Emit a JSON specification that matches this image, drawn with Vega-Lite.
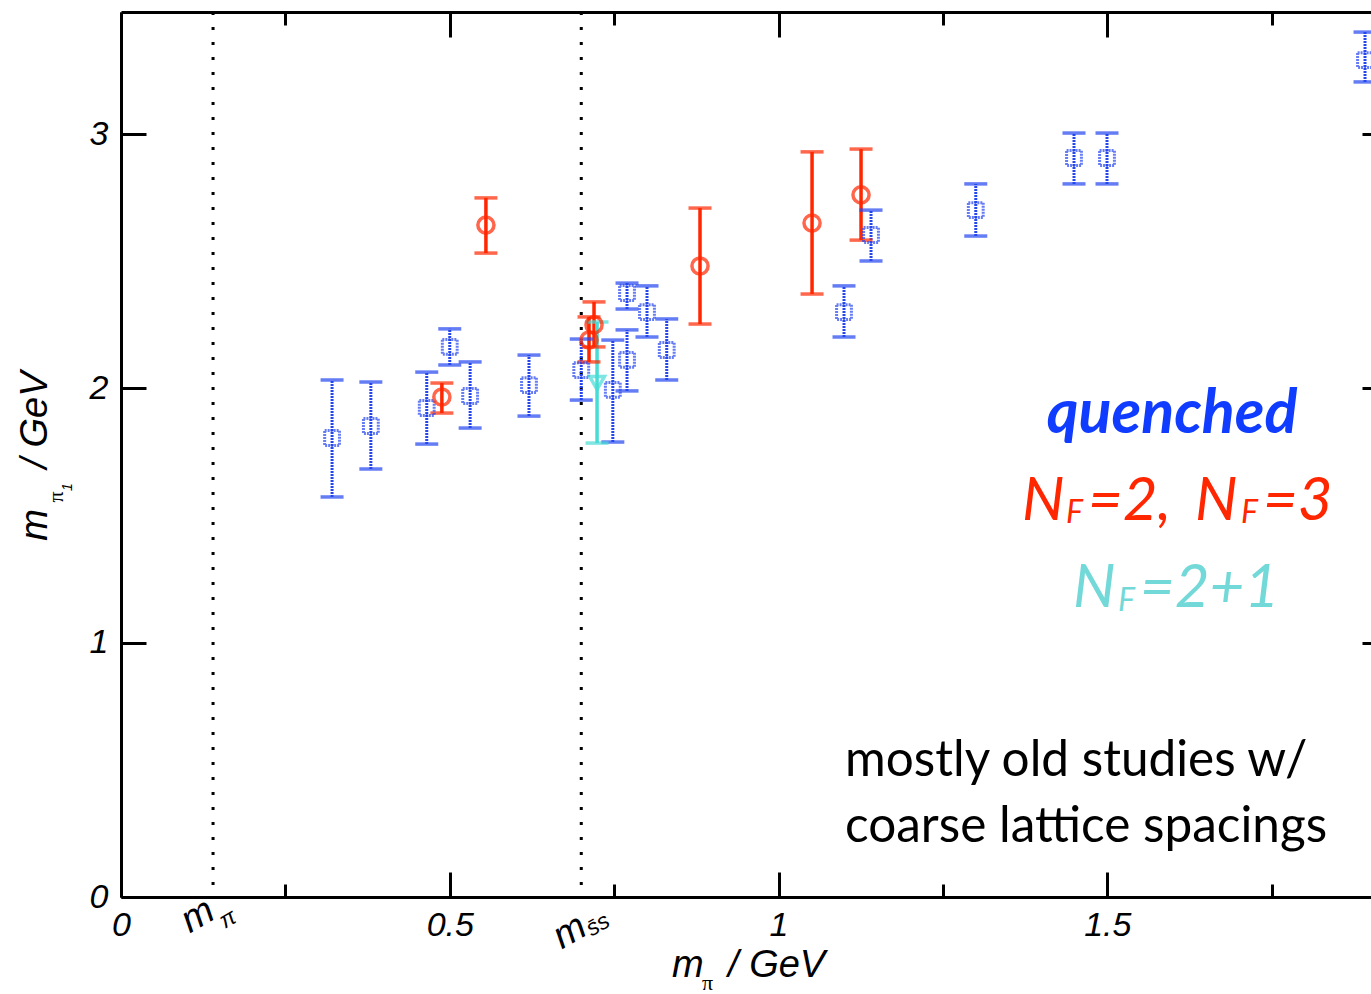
{
  "$schema": "https://vega.github.io/schema/vega-lite/v6.json",
  "width": 1250,
  "height": 885,
  "autosize": {"type": "none"},
  "padding": {"left": 121, "top": 12, "right": 0, "bottom": 97},
  "background": "white",
  "config": {"view": {"stroke": null}, "axis": {"grid": false}},
  "datasets": {
    "vlines": [{"pos": 0.14}, {"pos": 0.70}],
    "pts": [
      {"g": "quenched", "x": 0.321, "y": 1.805, "lo": 1.573, "hi": 2.033},
      {"g": "quenched", "x": 0.380, "y": 1.852, "lo": 1.683, "hi": 2.025},
      {"g": "quenched", "x": 0.465, "y": 1.923, "lo": 1.781, "hi": 2.064},
      {"g": "quenched", "x": 0.500, "y": 2.163, "lo": 2.092, "hi": 2.234},
      {"g": "quenched", "x": 0.531, "y": 1.970, "lo": 1.844, "hi": 2.104},
      {"g": "quenched", "x": 0.6205, "y": 2.013, "lo": 1.891, "hi": 2.131},
      {"g": "quenched", "x": 0.700, "y": 2.072, "lo": 1.954, "hi": 2.194},
      {"g": "quenched", "x": 0.748, "y": 1.994, "lo": 1.789, "hi": 2.190},
      {"g": "quenched", "x": 0.7696, "y": 2.112, "lo": 1.990, "hi": 2.230},
      {"g": "quenched", "x": 0.7696, "y": 2.375, "lo": 2.312, "hi": 2.414},
      {"g": "quenched", "x": 0.800, "y": 2.300, "lo": 2.202, "hi": 2.403},
      {"g": "quenched", "x": 0.830, "y": 2.151, "lo": 2.033, "hi": 2.273},
      {"g": "quenched", "x": 1.0996, "y": 2.300, "lo": 2.202, "hi": 2.403},
      {"g": "quenched", "x": 1.1407, "y": 2.603, "lo": 2.501, "hi": 2.701},
      {"g": "quenched", "x": 1.300, "y": 2.701, "lo": 2.599, "hi": 2.804},
      {"g": "quenched", "x": 1.4494, "y": 2.906, "lo": 2.804, "hi": 3.004},
      {"g": "quenched", "x": 1.4996, "y": 2.906, "lo": 2.804, "hi": 3.004},
      {"g": "quenched", "x": 1.892, "y": 3.291, "lo": 3.205, "hi": 3.401},
      {"g": "nf23", "x": 0.488, "y": 1.966, "lo": 1.903, "hi": 2.021},
      {"g": "nf23", "x": 0.555, "y": 2.642, "lo": 2.532, "hi": 2.749},
      {"g": "nf23", "x": 0.7118, "y": 2.19, "lo": 2.104, "hi": 2.281},
      {"g": "nf23", "x": 0.7194, "y": 2.25, "lo": 2.163, "hi": 2.340},
      {"g": "nf23", "x": 0.8806, "y": 2.481, "lo": 2.253, "hi": 2.709},
      {"g": "nf23", "x": 1.051, "y": 2.650, "lo": 2.371, "hi": 2.930},
      {"g": "nf23", "x": 1.1255, "y": 2.761, "lo": 2.583, "hi": 2.941},
      {"g": "nf21", "x": 0.724, "y": 2.021, "lo": 1.785, "hi": 2.261}
    ],
    "txt": [
      {"k": "qn", "x": 1.5985, "y": 1.8245, "t": "quenched"},
      {"k": "rb", "x": 1.3704, "y": 1.4824, "t": "N"},
      {"k": "rb", "x": 1.4707, "y": 1.4824, "t": "=2,"},
      {"k": "rb", "x": 1.6335, "y": 1.4824, "t": "N"},
      {"k": "rb", "x": 1.7369, "y": 1.4824, "t": "=3"},
      {"k": "rs", "x": 1.4373, "y": 1.4707, "t": "F"},
      {"k": "rs", "x": 1.7034, "y": 1.4707, "t": "F"},
      {"k": "cb", "x": 1.4479, "y": 1.1403, "t": "N"},
      {"k": "cb", "x": 1.5498, "y": 1.1403, "t": "=2+1"},
      {"k": "cs", "x": 1.5163, "y": 1.1246, "t": "F"},
      {"k": "blk", "x": 1.1011, "y": 0.4758, "t": "mostly old studies w/"},
      {"k": "blk", "x": 1.1011, "y": 0.2163, "t": "coarse lattice spacings"},
      {"k": "ytm", "x": -0.1125, "y": 1.4628, "t": "m"},
      {"k": "ytm", "x": -0.1125, "y": 1.8757, "t": "/ GeV"},
      {"k": "yts", "x": -0.0882, "y": 1.5729, "t": "π"},
      {"k": "ytss", "x": -0.0745, "y": 1.6122, "t": "1"},
      {"k": "xtm", "x": 0.8380, "y": -0.3146, "t": "m"},
      {"k": "xtm", "x": 0.9232, "y": -0.3146, "t": "/ GeV"},
      {"k": "xts", "x": 0.8837, "y": -0.3657, "t": "π"},
      {"k": "rm", "x": 0.1171, "y": -0.0747, "t": "m"},
      {"k": "rsub", "x": 0.1628, "y": -0.0865, "t": "π"},
      {"k": "rm", "x": 0.6829, "y": -0.1376, "t": "m"},
      {"k": "rsub", "x": 0.7255, "y": -0.1101, "t": "s̄s"}
    ]
  },
  "resolve": {"axis": {"x": "independent", "y": "independent"}},
  "layer": [
    {
      "data": {"name": "vlines"},
      "mark": {"type": "rule", "color": "black", "strokeWidth": 3, "strokeDash": [3, 12]},
      "encoding": {
        "x": {
          "field": "pos", "type": "quantitative",
          "scale": {"domain": [0, 1.9011], "nice": false, "zero": false},
          "axis": {
            "orient": "bottom", "title": null,
            "values": [0, 0.25, 0.5, 0.75, 1, 1.25, 1.5, 1.75],
            "tickSize": {"condition": {"test": "datum.value == 0 || datum.value == 0.5 || datum.value == 1 || datum.value == 1.5", "value": -25}, "value": -13},
            "tickWidth": 3, "tickColor": "black",
            "domainColor": "black", "domainWidth": 3,
            "labelExpr": "datum.value == 0 ? '0' : datum.value == 0.5 ? '0.5' : datum.value == 1 ? '1' : datum.value == 1.5 ? '1.5' : ''",
            "labelFlush": false, "labelOverlap": false,
            "labelFont": "Liberation Sans", "labelFontStyle": "italic", "labelFontSize": 34, "labelColor": "black",
            "labelPadding": 36
          }
        }
      }
    },
    {
      "data": {"name": "pts"},
      "transform": [{"filter": "datum.g == 'quenched'"}],
      "mark": {"type": "rule", "strokeWidth": 3, "strokeDash": [2, 1], "color": "#2446f0"},
      "encoding": {
        "x": {
          "field": "x", "type": "quantitative",
          "scale": {"domain": [0, 1.9011], "nice": false, "zero": false},
          "axis": {
            "orient": "top", "title": null, "labels": false,
            "values": [0, 0.25, 0.5, 0.75, 1, 1.25, 1.5, 1.75],
            "tickSize": {"condition": {"test": "datum.value == 0 || datum.value == 0.5 || datum.value == 1 || datum.value == 1.5", "value": -25}, "value": -13},
            "tickWidth": 3, "tickColor": "black",
            "domainColor": "black", "domainWidth": 3
          }
        },
        "y": {
          "field": "lo", "type": "quantitative",
          "scale": {"domain": [0, 3.48], "nice": false, "zero": false},
          "axis": {
            "orient": "left", "title": null,
            "values": [0, 1, 2, 3],
            "tickSize": -25, "tickWidth": 3, "tickColor": "black",
            "domainColor": "black", "domainWidth": 3,
            "labelOverlap": false,
            "labelFont": "Liberation Sans", "labelFontStyle": "italic", "labelFontSize": 34, "labelColor": "black",
            "labelPadding": 38
          }
        },
        "y2": {"field": "hi"}
      }
    },
    {
      "data": {"name": "pts"},
      "transform": [{"filter": "datum.g != 'quenched'"}],
      "mark": {"type": "rule", "strokeWidth": 3.5},
      "encoding": {
        "x": {"field": "x", "type": "quantitative", "scale": {"domain": [0, 1.9011], "nice": false, "zero": false}, "axis": null},
        "y": {
          "field": "lo", "type": "quantitative",
          "scale": {"domain": [0, 3.48], "nice": false, "zero": false},
          "axis": {
            "orient": "right", "title": null, "labels": false, "domain": false,
            "values": [1, 2, 3],
            "tickSize": -9, "tickWidth": 3, "tickColor": "black"
          }
        },
        "y2": {"field": "hi"},
        "color": {"field": "g", "type": "nominal", "scale": {"domain": ["quenched", "nf23", "nf21"], "range": ["#2446f0", "#ff2600", "#48dcd6"]}, "legend": null}
      }
    },
    {
      "data": {"name": "pts"},
      "mark": {"type": "tick", "orient": "horizontal", "size": 23, "thickness": 3.5},
      "encoding": {
        "x": {"field": "x", "type": "quantitative", "scale": {"domain": [0, 1.9011], "nice": false, "zero": false}, "axis": null},
        "y": {"field": "lo", "type": "quantitative", "scale": {"domain": [0, 3.48], "nice": false, "zero": false}, "axis": null},
        "color": {"field": "g", "type": "nominal", "scale": {"domain": ["quenched", "nf23", "nf21"], "range": ["#2446f0", "#ff2600", "#48dcd6"]}, "legend": null}
      }
    },
    {
      "data": {"name": "pts"},
      "mark": {"type": "tick", "orient": "horizontal", "size": 23, "thickness": 3.5},
      "encoding": {
        "x": {"field": "x", "type": "quantitative", "scale": {"domain": [0, 1.9011], "nice": false, "zero": false}, "axis": null},
        "y": {"field": "hi", "type": "quantitative", "scale": {"domain": [0, 3.48], "nice": false, "zero": false}, "axis": null},
        "color": {"field": "g", "type": "nominal", "scale": {"domain": ["quenched", "nf23", "nf21"], "range": ["#2446f0", "#ff2600", "#48dcd6"]}, "legend": null}
      }
    },
    {
      "data": {"name": "pts"},
      "transform": [{"filter": "datum.g == 'quenched'"}],
      "mark": {"type": "point", "shape": "square", "filled": false, "size": 220, "strokeWidth": 3, "color": "#2446f0", "strokeDash": [2, 1]},
      "encoding": {
        "x": {"field": "x", "type": "quantitative", "scale": {"domain": [0, 1.9011], "nice": false, "zero": false}, "axis": null},
        "y": {"field": "y", "type": "quantitative", "scale": {"domain": [0, 3.48], "nice": false, "zero": false}, "axis": null}
      }
    },
    {
      "data": {"name": "pts"},
      "transform": [{"filter": "datum.g == 'nf23'"}],
      "mark": {"type": "point", "shape": "circle", "filled": false, "size": 260, "strokeWidth": 3.5, "color": "#ff2600"},
      "encoding": {
        "x": {"field": "x", "type": "quantitative", "scale": {"domain": [0, 1.9011], "nice": false, "zero": false}, "axis": null},
        "y": {"field": "y", "type": "quantitative", "scale": {"domain": [0, 3.48], "nice": false, "zero": false}, "axis": null}
      }
    },
    {
      "data": {"name": "pts"},
      "transform": [{"filter": "datum.g == 'nf21'"}],
      "mark": {"type": "point", "shape": "triangle-down", "filled": false, "size": 220, "strokeWidth": 3.5, "color": "#48dcd6"},
      "encoding": {
        "x": {"field": "x", "type": "quantitative", "scale": {"domain": [0, 1.9011], "nice": false, "zero": false}, "axis": null},
        "y": {"field": "y", "type": "quantitative", "scale": {"domain": [0, 3.48], "nice": false, "zero": false}, "axis": null}
      }
    },
    {
      "data": {"name": "txt"},
      "transform": [{"filter": "datum.k == 'qn'"}],
      "mark": {"type": "text", "font": "Lato", "fontStyle": "italic", "fontWeight": "bold", "fontSize": 61, "color": "#0f3cff", "align": "center", "baseline": "alphabetic"},
      "encoding": {
        "x": {"field": "x", "type": "quantitative", "scale": {"domain": [0, 1.9011], "nice": false, "zero": false}, "axis": null},
        "y": {"field": "y", "type": "quantitative", "scale": {"domain": [0, 3.48], "nice": false, "zero": false}, "axis": null},
        "text": {"field": "t"}
      }
    },
    {
      "data": {"name": "txt"},
      "transform": [{"filter": "datum.k == 'rb'"}],
      "mark": {"type": "text", "font": "Lato", "fontStyle": "italic", "fontSize": 60, "color": "#ff2600", "align": "left", "baseline": "alphabetic"},
      "encoding": {
        "x": {"field": "x", "type": "quantitative", "scale": {"domain": [0, 1.9011], "nice": false, "zero": false}, "axis": null},
        "y": {"field": "y", "type": "quantitative", "scale": {"domain": [0, 3.48], "nice": false, "zero": false}, "axis": null},
        "text": {"field": "t"}
      }
    },
    {
      "data": {"name": "txt"},
      "transform": [{"filter": "datum.k == 'rs'"}],
      "mark": {"type": "text", "font": "Lato", "fontStyle": "italic", "fontSize": 32, "color": "#ff2600", "align": "left", "baseline": "alphabetic"},
      "encoding": {
        "x": {"field": "x", "type": "quantitative", "scale": {"domain": [0, 1.9011], "nice": false, "zero": false}, "axis": null},
        "y": {"field": "y", "type": "quantitative", "scale": {"domain": [0, 3.48], "nice": false, "zero": false}, "axis": null},
        "text": {"field": "t"}
      }
    },
    {
      "data": {"name": "txt"},
      "transform": [{"filter": "datum.k == 'cb'"}],
      "mark": {"type": "text", "font": "Lato", "fontStyle": "italic", "fontSize": 60, "color": "#72d9d8", "align": "left", "baseline": "alphabetic"},
      "encoding": {
        "x": {"field": "x", "type": "quantitative", "scale": {"domain": [0, 1.9011], "nice": false, "zero": false}, "axis": null},
        "y": {"field": "y", "type": "quantitative", "scale": {"domain": [0, 3.48], "nice": false, "zero": false}, "axis": null},
        "text": {"field": "t"}
      }
    },
    {
      "data": {"name": "txt"},
      "transform": [{"filter": "datum.k == 'cs'"}],
      "mark": {"type": "text", "font": "Lato", "fontStyle": "italic", "fontSize": 32, "color": "#72d9d8", "align": "left", "baseline": "alphabetic"},
      "encoding": {
        "x": {"field": "x", "type": "quantitative", "scale": {"domain": [0, 1.9011], "nice": false, "zero": false}, "axis": null},
        "y": {"field": "y", "type": "quantitative", "scale": {"domain": [0, 3.48], "nice": false, "zero": false}, "axis": null},
        "text": {"field": "t"}
      }
    },
    {
      "data": {"name": "txt"},
      "transform": [{"filter": "datum.k == 'blk'"}],
      "mark": {"type": "text", "font": "Lato", "fontSize": 49.5, "color": "black", "align": "left", "baseline": "alphabetic"},
      "encoding": {
        "x": {"field": "x", "type": "quantitative", "scale": {"domain": [0, 1.9011], "nice": false, "zero": false}, "axis": null},
        "y": {"field": "y", "type": "quantitative", "scale": {"domain": [0, 3.48], "nice": false, "zero": false}, "axis": null},
        "text": {"field": "t"}
      }
    },
    {
      "data": {"name": "txt"},
      "transform": [{"filter": "datum.k == 'ytm'"}],
      "mark": {"type": "text", "font": "Liberation Sans", "fontStyle": "italic", "fontSize": 38, "color": "black", "align": "center", "baseline": "alphabetic", "angle": -90},
      "encoding": {
        "x": {"field": "x", "type": "quantitative", "scale": {"domain": [0, 1.9011], "nice": false, "zero": false}, "axis": null},
        "y": {"field": "y", "type": "quantitative", "scale": {"domain": [0, 3.48], "nice": false, "zero": false}, "axis": null},
        "text": {"field": "t"}
      }
    },
    {
      "data": {"name": "txt"},
      "transform": [{"filter": "datum.k == 'yts'"}],
      "mark": {"type": "text", "font": "Liberation Serif", "fontSize": 22, "color": "black", "align": "center", "baseline": "alphabetic", "angle": -90},
      "encoding": {
        "x": {"field": "x", "type": "quantitative", "scale": {"domain": [0, 1.9011], "nice": false, "zero": false}, "axis": null},
        "y": {"field": "y", "type": "quantitative", "scale": {"domain": [0, 3.48], "nice": false, "zero": false}, "axis": null},
        "text": {"field": "t"}
      }
    },
    {
      "data": {"name": "txt"},
      "transform": [{"filter": "datum.k == 'ytss'"}],
      "mark": {"type": "text", "font": "Liberation Sans", "fontStyle": "italic", "fontSize": 14, "color": "black", "align": "center", "baseline": "alphabetic", "angle": -90},
      "encoding": {
        "x": {"field": "x", "type": "quantitative", "scale": {"domain": [0, 1.9011], "nice": false, "zero": false}, "axis": null},
        "y": {"field": "y", "type": "quantitative", "scale": {"domain": [0, 3.48], "nice": false, "zero": false}, "axis": null},
        "text": {"field": "t"}
      }
    },
    {
      "data": {"name": "txt"},
      "transform": [{"filter": "datum.k == 'xtm'"}],
      "mark": {"type": "text", "font": "Liberation Sans", "fontStyle": "italic", "fontSize": 38, "color": "black", "align": "left", "baseline": "alphabetic"},
      "encoding": {
        "x": {"field": "x", "type": "quantitative", "scale": {"domain": [0, 1.9011], "nice": false, "zero": false}, "axis": null},
        "y": {"field": "y", "type": "quantitative", "scale": {"domain": [0, 3.48], "nice": false, "zero": false}, "axis": null},
        "text": {"field": "t"}
      }
    },
    {
      "data": {"name": "txt"},
      "transform": [{"filter": "datum.k == 'xts'"}],
      "mark": {"type": "text", "font": "Liberation Serif", "fontSize": 22, "color": "black", "align": "left", "baseline": "alphabetic"},
      "encoding": {
        "x": {"field": "x", "type": "quantitative", "scale": {"domain": [0, 1.9011], "nice": false, "zero": false}, "axis": null},
        "y": {"field": "y", "type": "quantitative", "scale": {"domain": [0, 3.48], "nice": false, "zero": false}, "axis": null},
        "text": {"field": "t"}
      }
    },
    {
      "data": {"name": "txt"},
      "transform": [{"filter": "datum.k == 'rm'"}],
      "mark": {"type": "text", "font": "Liberation Sans", "fontStyle": "italic", "fontSize": 38, "color": "black", "align": "center", "baseline": "middle", "angle": -30},
      "encoding": {
        "x": {"field": "x", "type": "quantitative", "scale": {"domain": [0, 1.9011], "nice": false, "zero": false}, "axis": null},
        "y": {"field": "y", "type": "quantitative", "scale": {"domain": [0, 3.48], "nice": false, "zero": false}, "axis": null},
        "text": {"field": "t"}
      }
    },
    {
      "data": {"name": "txt"},
      "transform": [{"filter": "datum.k == 'rsub'"}],
      "mark": {"type": "text", "font": "Liberation Sans", "fontStyle": "italic", "fontSize": 23, "color": "black", "align": "center", "baseline": "middle", "angle": -30},
      "encoding": {
        "x": {"field": "x", "type": "quantitative", "scale": {"domain": [0, 1.9011], "nice": false, "zero": false}, "axis": null},
        "y": {"field": "y", "type": "quantitative", "scale": {"domain": [0, 3.48], "nice": false, "zero": false}, "axis": null},
        "text": {"field": "t"}
      }
    }
  ]
}
